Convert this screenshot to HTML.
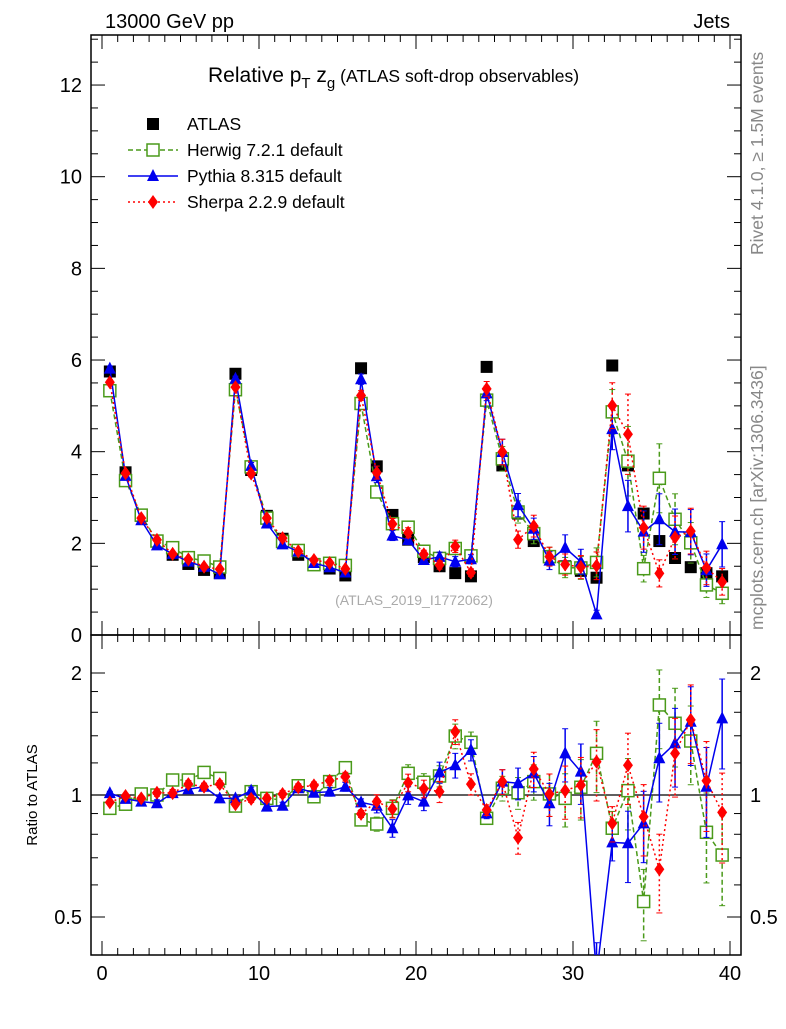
<!DOCTYPE html>
<html><head><meta charset="utf-8"><style>
body{margin:0;background:#fff;}
svg text{font-family:"Liberation Sans",sans-serif;}
</style></head><body>
<svg id="c" width="786" height="1024" xmlns="http://www.w3.org/2000/svg">
<g id="g"></g>
</svg>
<script>
const bins=[0.5,1.5,2.5,3.5,4.5,5.5,6.5,7.5,8.5,9.5,10.5,11.5,12.5,13.5,14.5,15.5,16.5,17.5,18.5,19.5,20.5,21.5,22.5,23.5,24.5,25.5,26.5,27.5,28.5,29.5,30.5,31.5,32.5,33.5,34.5,35.5,36.5,37.5,38.5,39.5];
const atlas=[5.75,3.55,2.6,2.05,1.75,1.55,1.42,1.35,5.7,3.6,2.6,2.1,1.75,1.55,1.45,1.3,5.82,3.68,2.62,2.08,1.7,1.5,1.35,1.28,5.85,3.7,2.65,2.05,1.7,1.5,1.4,1.25,5.88,3.7,2.65,2.05,1.68,1.48,1.35,1.28];
const herwigRatio=[0.927,0.949,1.006,1.0,1.089,1.089,1.137,1.099,0.939,1.019,0.981,0.972,1.054,0.99,1.079,1.168,0.868,0.848,0.927,1.131,1.075,1.114,1.398,1.349,0.876,1.039,1.013,1.079,1.006,0.981,1.045,1.267,0.828,1.025,0.546,1.668,1.503,1.359,0.809,0.711];
const pythiaRatio=[1.011,0.978,0.963,0.954,1.011,1.033,1.048,0.981,0.981,1.025,0.936,0.941,1.039,1.013,1.019,1.048,0.959,0.941,0.828,0.998,0.963,1.137,1.184,1.291,0.901,1.079,1.069,1.131,0.954,1.267,1.142,0.36,0.764,0.760,0.851,1.232,1.341,1.516,1.048,1.546];
const sherpaRatio=[0.959,0.994,0.981,1.013,1.011,1.064,1.048,1.064,0.949,0.978,0.981,1.006,1.045,1.056,1.084,1.11,0.898,0.963,0.924,1.072,1.036,1.019,1.433,1.064,0.918,1.079,0.785,1.159,1.006,1.025,1.058,1.208,0.851,1.184,0.884,0.656,1.267,1.532,1.084,0.906];
const relErr=[0.01,0.015,0.015,0.02,0.02,0.02,0.02,0.02,0.01,0.02,0.02,0.02,0.02,0.02,0.025,0.025,0.02,0.04,0.05,0.05,0.05,0.06,0.07,0.06,0.03,0.07,0.09,0.1,0.12,0.15,0.17,0.2,0.1,0.2,0.2,0.22,0.22,0.22,0.25,0.25];
const yTicksMain=[0,2,4,6,8,10,12];
const xTicks=[0,10,20,30,40];
const ratioLabels=[0.5,1,2];
const ratioMinor=[0.5,0.6,0.7,0.8,0.9,1,1.2,1.4,1.6,1.8,2];

const NS="http://www.w3.org/2000/svg";
const G=document.getElementById('g');
function el(t,a,p){const e=document.createElementNS(NS,t);for(const k in a)e.setAttribute(k,a[k]);(p||G).appendChild(e);return e;}
const L=91,R=741,MT=35,MB=635,RT=635,RB=955;
const X=v=>102+v*15.7;
const YM=v=>MB-v*45.83;
const YR=v=>795-122*Math.log2(v);
const defs=el('defs',{});
const c1=el('clipPath',{id:'cm'},defs);el('rect',{x:L,y:MT,width:R-L,height:MB-MT},c1);
const c2=el('clipPath',{id:'cr'},defs);el('rect',{x:L,y:RT,width:R-L,height:RB-RT},c2);

function txt(x,y,s,o){const t=el('text',Object.assign({x:x,y:y,'font-size':20},o||{}));t.textContent=s;return t;}
let f=el('rect',{x:L,y:MT,width:R-L,height:MB-MT,fill:'none',stroke:'#000','stroke-width':1.5});

f=el('rect',{x:L,y:RT,width:R-L,height:RB-RT,fill:'none',stroke:'#000','stroke-width':1.5});

for(let v=0;v<=40;v++){const big=v%10==0;const len=big?14:7;
 for(const [yb,yt] of [[MB,MT],[RB,RT]]){
  el('line',{x1:X(v),x2:X(v),y1:yb,y2:yb-len,stroke:'#000'});
  el('line',{x1:X(v),x2:X(v),y1:yt,y2:yt+len,stroke:'#000'});}}
xTicks.forEach(v=>{const t=txt(X(v),980,String(v),{'text-anchor':'middle'});
 });
for(let v=0;v<=13;v+=0.5){const y=YM(v);if(y<MT)continue;const len=(v%2==0)?14:7;
 el('line',{x1:L,x2:L+len,y1:y,y2:y,stroke:'#000'});el('line',{x1:R,x2:R-len,y1:y,y2:y,stroke:'#000'});}
yTicksMain.forEach(v=>{const t=txt(82,YM(v)+7,String(v),{'text-anchor':'end'});
 });
ratioMinor.forEach(v=>{const y=YR(v);const big=ratioLabels.includes(v);const len=big?14:7;
 el('line',{x1:L,x2:L+len,y1:y,y2:y,stroke:'#000'});el('line',{x1:R,x2:R-len,y1:y,y2:y,stroke:'#000'});});
ratioLabels.forEach(v=>{let t=txt(82,YR(v)+7,String(v),{'text-anchor':'end'});
 
 t=txt(750,YR(v)+7,String(v));
 });
el('line',{x1:L,x2:R,y1:YR(1),y2:YR(1),stroke:'#000','stroke-width':1.3});

const series=[
 {name:'herwig',r:herwigRatio,col:'#4a9a1a',dash:'5,3',m:'sq'},
 {name:'pythia',r:pythiaRatio,col:'#0000ee',dash:'',m:'tri'},
 {name:'sherpa',r:sherpaRatio,col:'#ff0000',dash:'2,3',m:'dia'}];
function marker(m,x,y,col,p){
 if(m=='sq')return el('rect',{x:x-6,y:y-6,width:12,height:12,fill:'#fff',stroke:col,'stroke-width':1.5},p);
 if(m=='tri')return el('polygon',{points:`${x},${y-7} ${x-6},${y+5} ${x+6},${y+5}`,fill:col},p);
 if(m=='dia')return el('polygon',{points:`${x},${y-7} ${x-5},${y} ${x},${y+7} ${x+5},${y}`,fill:col},p);
 if(m=='box')return el('rect',{x:x-6,y:y-6,width:12,height:12,fill:'#000'},p);
}
function drawPanel(clip,Y,isRatio){
 const gp=el('g',{'clip-path':`url(#${clip})`});
 series.forEach(s=>{
  const vals=bins.map((b,i)=>isRatio?s.r[i]:s.r[i]*atlas[i]);
  const gs=el('g',{},gp);
  
  el('polyline',{points:bins.map((b,i)=>X(b)+','+Y(vals[i])).join(' '),fill:'none',stroke:s.col,'stroke-width':1.5,'stroke-dasharray':s.dash},gs);
  bins.forEach((b,i)=>{const e=relErr[i]*vals[i];
   el('line',{x1:X(b),x2:X(b),y1:Y(vals[i]+e),y2:Y(Math.max(vals[i]-e,0.01)),stroke:s.col,'stroke-width':1.5,'stroke-dasharray':s.dash},gs);
   el('line',{x1:X(b)-3,x2:X(b)+3,y1:Y(vals[i]+e),y2:Y(vals[i]+e),stroke:s.col},gs);
   el('line',{x1:X(b)-3,x2:X(b)+3,y1:Y(Math.max(vals[i]-e,0.01)),y2:Y(Math.max(vals[i]-e,0.01)),stroke:s.col},gs);
   const mk=marker(s.m,X(b),Y(vals[i]),s.col,gs);
   });
 });
 return gp;
}
const ga=el('g',{'clip-path':'url(#cm)'});

bins.forEach((b,i)=>{const mk=marker('box',X(b),YM(atlas[i]),'#000',ga);
 });
drawPanel('cm',YM,false);
drawPanel('cr',YR,true);
let t=txt(105,28,'13000 GeV pp');
t=txt(730,28,'Jets',{'text-anchor':'end'});
t=el('text',{x:208,y:82,'font-size':21});t.innerHTML='Relative p<tspan font-size="15" dy="6">T</tspan><tspan dy="-6"> z</tspan><tspan font-size="15" dy="6">g</tspan><tspan dy="-6" font-size="17.5"> (ATLAS soft-drop observables)</tspan>';

t=txt(414,605,'(ATLAS_2019_I1772062)',{'text-anchor':'middle','font-size':14,fill:'#aaa'});
t=txt(0,0,'Rivet 4.1.0, \u2265 1.5M events',{'font-size':17.5,fill:'#888',transform:'translate(763,255) rotate(-90)'});
t=txt(0,0,'mcplots.cern.ch [arXiv:1306.3436]',{'font-size':17.5,fill:'#888',transform:'translate(763,630) rotate(-90)'});
t=txt(0,0,'Ratio to ATLAS',{'font-size':15,'text-anchor':'middle',transform:'translate(37,795) rotate(-90)'});
const leg=[['ATLAS','box','#000',''],['Herwig 7.2.1 default','sq','#4a9a1a','5,3'],['Pythia 8.315 default','tri','#0000ee',''],['Sherpa 2.2.9 default','dia','#ff0000','2,3']];
leg.forEach((l,i)=>{const y=124+i*26;const g=el('g',{});
 
 if(i>0)el('line',{x1:128,x2:178,y1:y,y2:y,stroke:l[2],'stroke-width':1.5,'stroke-dasharray':l[3]},g);
 marker(l[1],153,y,l[2],g);
 const tt=el('text',{x:187,y:y+6,'font-size':17.5},g);tt.textContent=l[0];});
</script>
</body></html>
